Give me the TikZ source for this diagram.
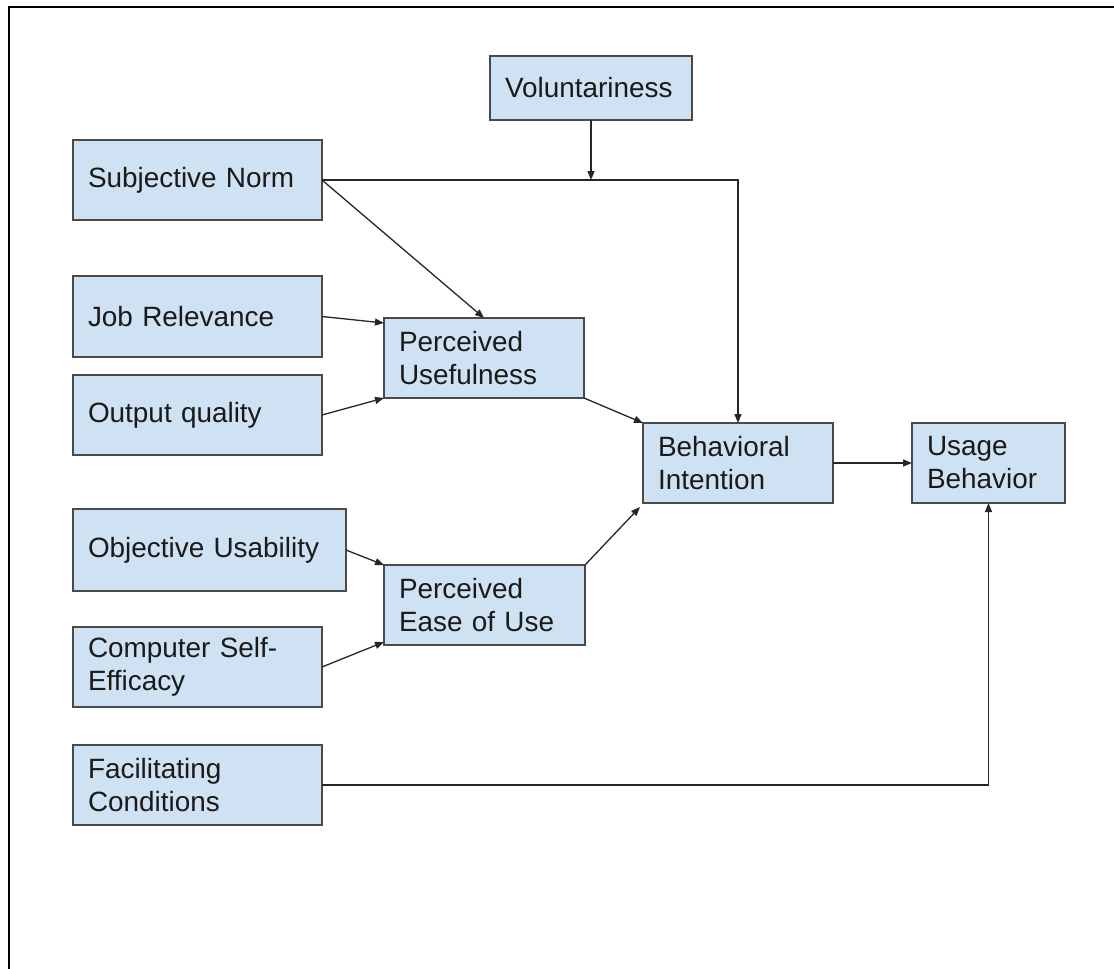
\documentclass[tikz,border=0pt]{standalone}
\usepackage{fontspec}
\setmainfont{Liberation Sans}
\usetikzlibrary{arrows.meta,calc}
\definecolor{boxfill}{HTML}{CFE2F3}
\definecolor{boxline}{HTML}{4A4A4A}
\definecolor{txt}{HTML}{1A1A1A}
\tikzset{
  concept/.style={draw=boxline, line width=1.6pt, fill=boxfill, text=txt,
    rectangle, inner xsep=15pt, inner ysep=0pt, outer sep=0pt, align=left,
    font=\fontsize{27.9}{33}\selectfont},
  link/.style={draw=black!85, line width=1.3pt,
    -{Triangle[length=9pt,width=7pt]}},
  plainlink/.style={draw=black!85, line width=1.3pt},
}
\begin{document}
\begin{tikzpicture}[x=1pt,y=-1pt]
\useasboundingbox (0,0) rectangle (1114,969);
% page frame (top and left edges)
\draw[line width=2pt] (9,969) -- (9,6.5) -- (1114,6.5);

% concepts
\node[concept, text width=172, minimum height=64] (vol) at (591,88) {Voluntariness};
\node[concept, text width=219, minimum height=80] (sn)  at (197.5,180) {Subjective Norm};
\node[concept, text width=219, minimum height=81] (jr)  at (197.5,316.5) {Job Relevance};
\node[concept, text width=219, minimum height=80] (oq)  at (197.5,415) {Output quality};
\node[concept, text width=170, minimum height=80] (pu)  at (484,358) {Perceived\\Usefulness};
\node[concept, text width=160, minimum height=80] (bi)  at (738,463) {Behavioral\\Intention};
\node[concept, text width=123, minimum height=80] (ub)  at (988.5,463) {Usage\\Behavior};
\node[concept, text width=243, minimum height=82] (ou)  at (209.5,550) {Objective Usability};
\node[concept, text width=171, minimum height=80] (peu) at (484.5,605) {Perceived\\Ease of Use};
\node[concept, text width=219, minimum height=80] (cse) at (197.5,667) {Computer Self-\\Efficacy};
\node[concept, text width=219, minimum height=80] (fc)  at (197.5,785) {Facilitating\\Conditions};

% connectors
\draw[link] (vol.south) -- (vol.south |- sn.east);
\draw[link] (sn.east) -- (sn.east -| bi.north) -- (bi.north);
\draw[link] (sn.east) -- (pu.north);
\draw[link] (jr.east) -- ($(pu.north west)+(0,5)$);
\draw[link] (oq.east) -- (pu.south west);
\draw[link] (pu.south east) -- (bi.north west);
\draw[link] (ou.east) -- (peu.north west);
\draw[link] (cse.east) -- ($(peu.south west)+(0,-3)$);
\draw[link] (peu.north east) -- ($(bi.south west)+(-3,4)$);
\draw[link] (bi.east) -- (ub.west);
\draw[link] (fc.east) -- (fc.east -| ub.south) -- (ub.south);
\end{tikzpicture}
\end{document}
